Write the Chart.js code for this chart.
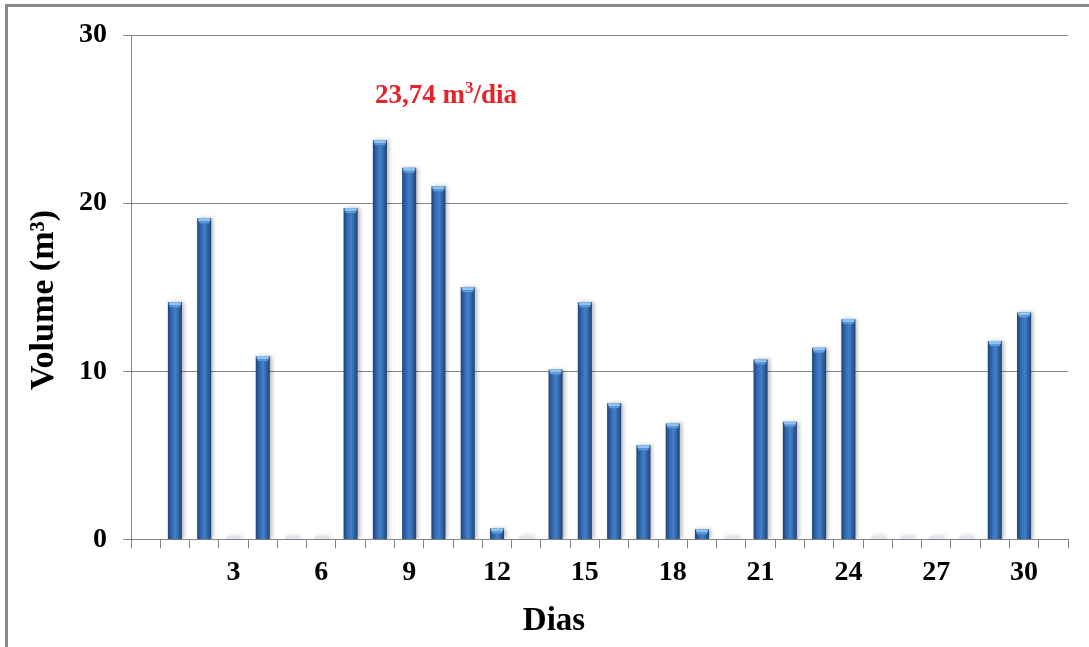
<!DOCTYPE html>
<html>
<head>
<meta charset="utf-8">
<script src="https://cdn.jsdelivr.net/npm/chart.js@4.4.1/dist/chart.umd.min.js"></script>
<style>
  html, body { margin: 0; padding: 0; background: #fff; }
  #wrap { position: relative; width: 1089px; height: 647px; }
  #frame { position: absolute; left: 5px; top: 4px; right: 0; bottom: 0;
           border-left: 3px solid #8a8a8a; border-top: 3px solid #8a8a8a; pointer-events: none; }
</style>
</head>
<body>
<div id="wrap">
  <canvas id="graficoVolume" width="1089" height="647"></canvas>
  <div id="frame"></div>
</div>
<script>
// Dias do mês (0 e 31 ficam vazios no eixo)
const dias = [0, 1, 2, 3, 4, 5, 6, 7, 8, 9, 10, 11, 12, 13, 14, 15,
              16, 17, 18, 19, 20, 21, 22, 23, 24, 25, 26, 27, 28, 29, 30, 31];
// Volume diário (m3)
const volume = [null, 14.1, 19.1, 0, 10.9, 0, 0, 19.7, 23.74, 22.1, 21.0, 15.0, 0.65, 0,
                10.1, 14.1, 8.1, 5.6, 6.9, 0.6, 0, 10.7, 7.0, 11.4, 13.1, 0, 0, 0, 0, 11.8, 13.5, null];
// Rótulos mostrados no eixo X
const diasRotulados = [3, 6, 9, 12, 15, 18, 21, 24, 27, 30];
// Eixo Y
const yMin = 0, yMax = 30, yPasso = 10;
// Destaque do pico
const diaPico = 8;
const textoPico = ['23,74 m', '3', '/dia'];

const serif = '"Liberation Serif", "Times New Roman", serif';

// Sombra, reflexo no topo das barras e rótulo do pico
const estiloBarras = {
    id: 'estiloBarras',
    beforeDatasetsDraw(chart) {
        const ctx = chart.ctx;
        ctx.save();
        ctx.shadowColor = 'rgba(0,0,0,0.28)';
        ctx.shadowBlur = 4;
        ctx.shadowOffsetX = 2;
        ctx.shadowOffsetY = 0;
    },
    afterDatasetsDraw(chart) {
        const ctx = chart.ctx;
        ctx.restore();
        const meta = chart.getDatasetMeta(0);
        meta.data.forEach((bar, i) => {
            if (!volume[i]) return;
            const w = bar.width;
            const left = bar.x - w / 2;
            ctx.fillStyle = '#8ec2f0';
            ctx.fillRect(left + 1, bar.y, w - 2, 3);
            ctx.fillStyle = '#5f9ad8';
            ctx.fillRect(left + 2, bar.y + 3, w - 4, 2);
        });

        // rótulo do valor máximo
        const x = chart.scales.x.getPixelForValue(diaPico) - 5;
        const y = chart.scales.y.getPixelForValue(volume[diaPico]) - 37;
        ctx.save();
        ctx.fillStyle = '#e5232b';
        ctx.textBaseline = 'alphabetic';
        ctx.textAlign = 'left';
        ctx.font = 'bold 27px ' + serif;
        ctx.fillText(textoPico[0], x, y);
        let px = x + ctx.measureText(textoPico[0]).width;
        ctx.font = 'bold 17px ' + serif;
        ctx.fillText(textoPico[1], px, y - 10);
        px += ctx.measureText(textoPico[1]).width;
        ctx.font = 'bold 27px ' + serif;
        ctx.fillText(textoPico[2], px, y);
        ctx.restore();
    }
};

const ctx = document.getElementById('graficoVolume').getContext('2d');
const grafico = new Chart(ctx, {
    type: 'bar',
    data: {
        labels: dias,
        datasets: [{
            label: 'Volume',
            data: volume,
            backgroundColor: function(context) {
                const chart = context.chart;
                if (context.raw === 0) return '#dfe5ee';
                const xs = chart.scales.x;
                const x = xs ? xs.getPixelForValue(context.dataIndex) : NaN;
                if (!chart.chartArea || !isFinite(x)) return '#2f64aa';
                const g = chart.ctx.createLinearGradient(x - 7, 0, x + 7, 0);
                g.addColorStop(0, '#1c4478');
                g.addColorStop(0.3, '#346cb4');
                g.addColorStop(0.55, '#4280ca');
                g.addColorStop(1, '#1c4478');
                return g;
            },
            borderWidth: 0,
            barPercentage: 0.48,
            categoryPercentage: 1.0,
            minBarLength: 3
        }]
    },
    options: {
        responsive: false,
        animation: false,
        layout: { padding: { left: 40, right: 21, top: 35, bottom: 0 } },
        plugins: {
            legend: { display: false },
            tooltip: { enabled: false },
            title: {
                display: true,
                position: 'bottom',
                text: 'Dias',
                color: '#000',
                font: { family: serif, size: 33, weight: 'bold' },
                padding: { top: 0, bottom: 6 }
            }
        },
        scales: {
            x: {
                ticks: {
                    autoSkip: false,
                    maxRotation: 0,
                    color: '#000',
                    padding: 8,
                    font: { family: serif, size: 28, weight: 'bold' },
                    callback: function(value, index) {
                        return diasRotulados.includes(dias[index]) ? String(dias[index]) : '';
                    }
                },
                grid: { offset: true, drawOnChartArea: false, tickLength: 9, color: '#868686' },
                border: { color: '#868686' },
                afterFit(scale) { scale.height = 62; }
            },
            y: {
                min: yMin,
                max: yMax,
                ticks: {
                    stepSize: yPasso,
                    color: '#000',
                    padding: 16,
                    font: { family: serif, size: 28, weight: 'bold' }
                },
                grid: { color: '#868686', tickLength: 8 },
                border: { color: '#868686' },
                title: {
                    display: true,
                    text: 'Volume (m³)   ',
                    color: '#000',
                    font: { family: serif, size: 34, weight: 'bold' },
                    padding: { top: -16, bottom: 0 }
                },
                afterFit(scale) { scale.width = 91; }
            }
        }
    },
    plugins: [estiloBarras]
});
</script>
</body>
</html>
